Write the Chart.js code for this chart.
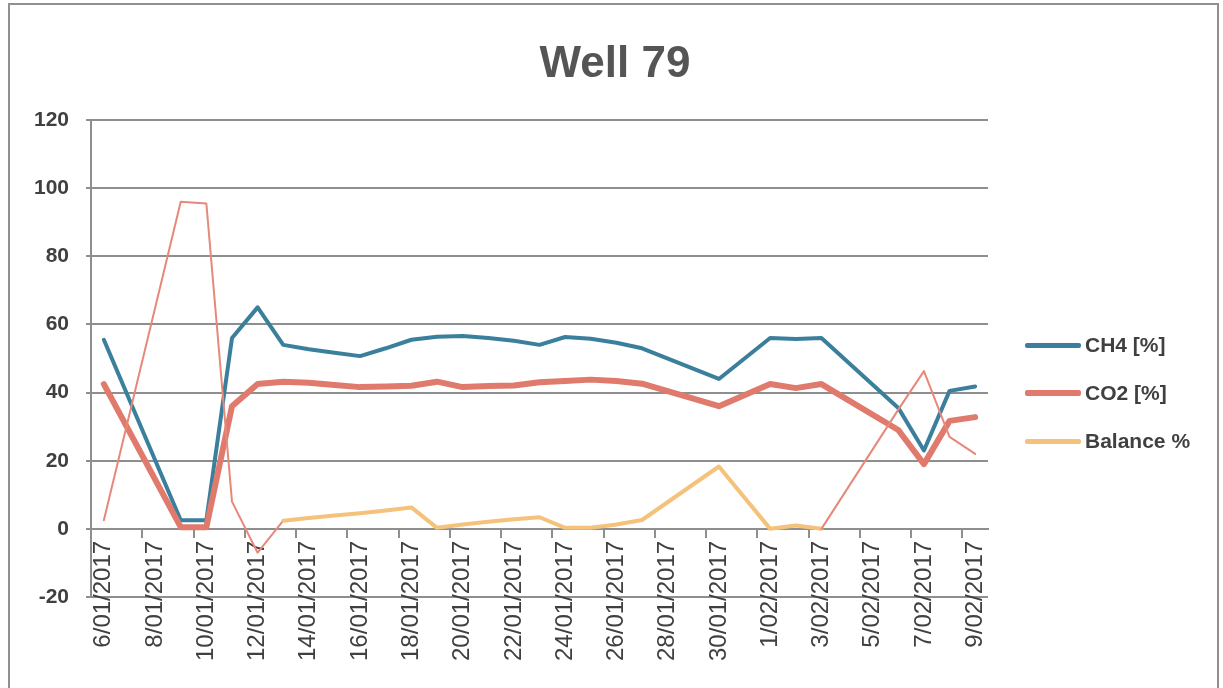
<!DOCTYPE html>
<html>
<head>
<meta charset="utf-8">
<title>Well 79</title>
<script src="https://cdn.jsdelivr.net/npm/chart.js@4.4.1/dist/chart.umd.min.js"></script>
<style>
  html, body { margin: 0; padding: 0; background: #fff; }
  #wrap { position: relative; width: 1223px; height: 688px; overflow: hidden; font-family: 'Liberation Sans', Arial, sans-serif; }
  #chart-box { position: absolute; left: 0; top: 0; width: 1223px; height: 688px; }
  #frame { position: absolute; left: 8px; top: 3px; width: 1211px; height: 720px; border: 2px solid #909090; box-sizing: border-box; pointer-events: none; }
  #title { position: absolute; left: 0; top: 36px; width: 1230px; text-align: center; font-size: 44px; line-height: 52px; font-weight: bold; color: #555; }
  #legend { position: absolute; left: 1025px; top: 321px; font-weight: bold; font-size: 21px; color: #404040; }
  .legend-item { display: flex; align-items: center; height: 48px; }
  .legend-line { width: 56px; margin-right: 4px; border-radius: 2px; }
</style>
</head>
<body>
<div id="wrap">
  <div id="chart-box"><canvas id="wellChart"></canvas></div>
  <div id="frame"></div>
  <div id="title">Well 79</div>
  <div id="legend"></div>
</div>
<script>
// ── DATA ──
const dates = [
  '6/01/2017', '7/01/2017', '8/01/2017', '9/01/2017', '10/01/2017', '11/01/2017', '12/01/2017',
  '13/01/2017', '14/01/2017', '15/01/2017', '16/01/2017', '17/01/2017', '18/01/2017', '19/01/2017',
  '20/01/2017', '21/01/2017', '22/01/2017', '23/01/2017', '24/01/2017', '25/01/2017', '26/01/2017',
  '27/01/2017', '28/01/2017', '29/01/2017', '30/01/2017', '31/01/2017', '1/02/2017', '2/02/2017',
  '3/02/2017', '4/02/2017', '5/02/2017', '6/02/2017', '7/02/2017', '8/02/2017', '9/02/2017'
];

// null = no reading that day (line is joined across)
const ch4 = [55.5, null, null, 2.5, 2.5, 56, 65, 54, 52.7, 51.7, 50.7, 53, 55.5, 56.4,
  56.6, 56, 55.2, 54, 56.3, 55.8, 54.6, 53, null, null, 44, null, 56, 55.7,
  56, null, null, 35.5, 23, 40.5, 41.8];

const co2 = [42.5, null, null, 0.5, 0.5, 36, 42.5, 43.2, 42.9, 42.2, 41.6, 41.8, 42, 43.2,
  41.6, 41.9, 42.1, 43, 43.4, 43.8, 43.4, 42.6, null, null, 36, null, 42.5, 41.3,
  42.5, null, null, 29, 19, 31.7, 32.8];

const balance = [2.5, null, null, 96, 95.5, 8, -7, 2.4, 3.2, 3.9, 4.6, 5.4, 6.3, 0.3,
  1.3, 2.1, 2.8, 3.4, 0.3, 0.3, 1.3, 2.6, null, null, 18.3, null, 0, 1,
  0, null, null, 35, 46.3, 27, 22];

const seriesNames = ['CH4 [%]', 'CO2 [%]', 'Balance %'];
const seriesColors = ['#3a7f9c', '#e07a6c', '#f4c27a'];

const yTicks = { min: -20, max: 120, step: 20 };

// ── STYLE ──
const GRID = '#8e8e8e';
const TEXT = '#404040';
const FONT = "'Liberation Sans', Arial, sans-serif";

// the scan washed the balance line to thin red on its big swings
const fadedSeg = ctx => {
  const a = ctx.p0.parsed.y, b = ctx.p1.parsed.y;
  return Math.max(a, b) > 25 || Math.min(a, b) < 0;
};

// ── CHART ──
function initWellChart() {
  const ctx = document.getElementById('wellChart');

  new Chart(ctx, {
    type: 'line',
    data: {
      labels: dates,
      datasets: [
        {
          label: seriesNames[0],
          data: ch4,
          borderColor: seriesColors[0],
          backgroundColor: seriesColors[0],
          borderWidth: 4,
          order: 2
        },
        {
          label: seriesNames[1],
          data: co2,
          borderColor: seriesColors[1],
          backgroundColor: seriesColors[1],
          borderWidth: 6,
          order: 1
        },
        {
          label: seriesNames[2],
          data: balance,
          borderColor: seriesColors[2],
          backgroundColor: seriesColors[2],
          borderWidth: 4,
          order: 0,
          segment: {
            borderColor: c => fadedSeg(c) ? '#e6887a' : undefined,
            borderWidth: c => fadedSeg(c) ? 2 : undefined
          }
        }
      ]
    },
    options: {
      responsive: true,
      maintainAspectRatio: false,
      animation: false,
      spanGaps: true,
      elements: {
        point: { radius: 0, hoverRadius: 0 },
        line: { tension: 0, borderCapStyle: 'round', borderJoinStyle: 'round' }
      },
      layout: { padding: { left: 17, right: 235, top: 120, bottom: 91 } },
      plugins: {
        legend: { display: false },
        tooltip: { enabled: false },
        title: { display: false }
      },
      scales: {
        x: {
          type: 'category',
          position: { y: 0 },
          offset: true,
          grid: {
            offset: true,
            drawOnChartArea: false,
            tickLength: 8,
            lineWidth: 2,
            color: c => c.index % 2 === 0 ? GRID : 'rgba(0,0,0,0)'
          },
          border: { display: true, color: GRID, width: 2 },
          ticks: {
            autoSkip: false,
            minRotation: 90,
            maxRotation: 90,
            padding: 4,
            color: TEXT,
            font: { family: FONT, size: 24 },
            callback: function (v, i) { return i % 2 === 0 ? this.getLabelForValue(v) : ''; }
          }
        },
        y: {
          min: yTicks.min,
          max: yTicks.max,
          grid: { color: GRID, lineWidth: 2, tickLength: 5 },
          border: { display: true, color: GRID, width: 2 },
          ticks: {
            stepSize: yTicks.step,
            padding: 17,
            color: TEXT,
            font: { family: FONT, size: 21, weight: 'bold' }
          }
        }
      }
    }
  });
}

// ── LEGEND ──
function renderLegend() {
  const el = document.getElementById('legend');
  const widths = [5, 6, 5];
  el.innerHTML = seriesNames.map((name, i) => `
    <div class="legend-item">
      <div class="legend-line" style="background:${seriesColors[i]};height:${widths[i]}px"></div>
      <div>${name}</div>
    </div>
  `).join('');
}

initWellChart();
renderLegend();
</script>
</body>
</html>
